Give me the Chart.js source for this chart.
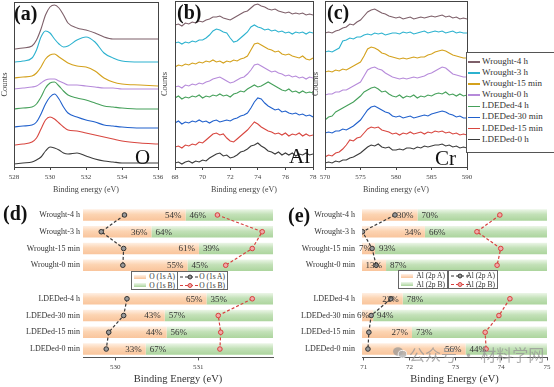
<!DOCTYPE html>
<html>
<head>
<meta charset="utf-8">
<script src="https://cdn.jsdelivr.net/npm/chart.js@4.4.0/dist/chart.umd.min.js"></script>
<style>
html, body { margin: 0; padding: 0; background: #fff; }
#wrap { position: relative; width: 554px; height: 387px; overflow: hidden; font-family: 'Liberation Serif', 'Times New Roman', serif; color: #222; }
#wrap canvas { position: absolute; }
.tag { position: absolute; font-weight: bold; line-height: 1; color: #111; }
.elem { position: absolute; font-size: 21px; line-height: 1; color: #111; }
#legTop { position: absolute; left: 466px; top: 52px; width: 92px; height: 101px; border: 1px solid #555; background: #fff; padding-top: 3px; box-sizing: border-box; }
#legTop .row { height: 11.1px; line-height: 11.1px; font-size: 9px; white-space: nowrap; color: #333; }
#legTop .sw { display: inline-block; width: 12px; height: 1.5px; vertical-align: middle; margin: 0 2px 0 1px; }
.lgbox { position: absolute; border: 1px solid #666; background: #fff; box-sizing: border-box; font-size: 7.5px; color: #333; }
.lgbox .r { position: absolute; left: 0; right: 2px; height: 9px; line-height: 9px; text-align: right; white-space: nowrap; }
.lgbox .bar { position: absolute; left: 2px; top: 2.5px; width: 12px; height: 4px; }
.lgbox svg { position: absolute; left: 1px; top: 1px; }
#wm { position: absolute; left: 409px; top: 342px; font-family: 'Noto Sans CJK SC', sans-serif; font-size: 16px; color: rgba(150,150,150,0.75); white-space: nowrap; }
#wmIcon { position: absolute; left: 393px; top: 347px; width: 14px; height: 11px; }
</style>
</head>
<body>
<div id="wrap">
  <canvas id="chartA" width="168" height="200" style="left:0;top:0"></canvas>
  <canvas id="chartB" width="163" height="200" style="left:160px;top:0"></canvas>
  <canvas id="chartC" width="166" height="200" style="left:311px;top:0"></canvas>
  <canvas id="chartD" width="280" height="197" style="left:0;top:190px"></canvas>
  <canvas id="chartE" width="277" height="197" style="left:277px;top:190px"></canvas>

  <div class="tag" style="left:14px;top:3px;font-size:20px">(a)</div>
  <div class="tag" style="left:177px;top:2px;font-size:20px">(b)</div>
  <div class="tag" style="left:327px;top:2px;font-size:20px">(c)</div>
  <div class="tag" style="left:3px;top:203px;font-size:20px">(d)</div>
  <div class="tag" style="left:288px;top:205px;font-size:20px">(e)</div>
  <div class="elem" style="left:135px;top:147px">O</div>
  <div class="elem" style="left:289px;top:146px">Al</div>
  <div class="elem" style="left:435px;top:148px">Cr</div>

  <div id="legTop"></div>

  <div class="lgbox" style="left:131px;top:271px;width:47px;height:19px">
    <div class="bar" style="background:linear-gradient(#fff1e6,#f9c49b)"></div>
    <div class="r" style="top:0">O (1s A)</div>
    <div class="bar" style="top:11px;background:linear-gradient(#eef7ea,#abd49c)"></div>
    <div class="r" style="top:8.5px">O (1s B)</div>
  </div>
  <div class="lgbox" style="left:177px;top:271px;width:51px;height:19px">
    <svg width="22" height="17"><line x1="1" y1="4" x2="21" y2="4" stroke="#333" stroke-dasharray="3,2"/><circle cx="11" cy="4" r="2" fill="#999" stroke="#333"/><line x1="1" y1="12.5" x2="21" y2="12.5" stroke="#d8413f" stroke-dasharray="3,2"/><circle cx="11" cy="12.5" r="2" fill="#efaaa8" stroke="#d8413f"/></svg>
    <div class="r" style="top:0">O (1s A)</div>
    <div class="r" style="top:8.5px">O (1s B)</div>
  </div>
  <div class="lgbox" style="left:398px;top:270px;width:50px;height:19px">
    <div class="bar" style="background:linear-gradient(#fff1e6,#f9c49b)"></div>
    <div class="r" style="top:0">Al (2p A)</div>
    <div class="bar" style="top:11px;background:linear-gradient(#eef7ea,#abd49c)"></div>
    <div class="r" style="top:8.5px">Al (2p B)</div>
  </div>
  <div class="lgbox" style="left:448px;top:270px;width:50px;height:19px">
    <svg width="20" height="17"><line x1="1" y1="4" x2="19" y2="4" stroke="#333" stroke-dasharray="3,2"/><circle cx="10" cy="4" r="2" fill="#999" stroke="#333"/><line x1="1" y1="12.5" x2="19" y2="12.5" stroke="#d8413f" stroke-dasharray="3,2"/><circle cx="10" cy="12.5" r="2" fill="#efaaa8" stroke="#d8413f"/></svg>
    <div class="r" style="top:0">Al (2p A)</div>
    <div class="r" style="top:8.5px">Al (2p B)</div>
  </div>

  <svg id="wmIcon" viewBox="0 0 14 11"><ellipse cx="5" cy="4.5" rx="5" ry="4.2" fill="rgba(150,150,150,0.7)"/><ellipse cx="9.5" cy="7" rx="4.3" ry="3.6" fill="rgba(175,175,175,0.8)" stroke="#fff" stroke-width="0.8"/></svg>
  <div id="wm">公众号 · 材料学网</div>
</div>

<script>
// sample order, top to bottom in the stacked spectra
const sampleNames = ['Wrought-4 h', 'Wrought-3 h', 'Wrought-15 min', 'Wrought-0 h', 'LDEDed-4 h', 'LDEDed-30 min', 'LDEDed-15 min', 'LDEDed-0 h'];
const sampleColors = ['#7d5f69', '#2cb2cf', '#d4a11c', '#b68ada', '#45a05a', '#2060cc', '#d8463f', '#3b3b3b'];

// (a) O 1s, counts with vertical offsets as plotted
const energyO = [528, 528.5, 529, 529.25, 529.5, 529.75, 530, 530.25, 530.5, 530.75, 531, 531.5, 532, 532.5, 533, 533.5, 534, 535, 536];
const oW4h  = [118, 119, 121, 127, 138, 152, 160, 162, 159, 152, 144, 139, 137, 134, 130, 128, 128, 128, 128];
const oW3h  = [105, 106, 109, 117, 130, 136, 134, 128, 123, 120, 121, 127, 130, 125, 114, 109, 106, 105, 105];
const oW15m = [89, 90, 91, 94, 100, 108, 112, 113, 110, 107, 104, 101, 100, 96, 89, 85, 83, 82, 81];
const oW0h  = [78, 79, 80, 81, 84, 87, 88, 88, 86, 84, 82, 82, 81, 80, 79, 79, 78, 78, 78];
const oL4h  = [58, 59, 60, 63, 70, 79, 84, 85, 81, 76, 72, 69, 67, 64, 61, 60, 59, 58, 58];
const oL30m = [40, 41, 42, 45, 53, 63, 70, 73, 68, 60, 54, 50, 47, 45, 42, 41, 40, 39, 39];
const oL15m = [22, 23, 25, 29, 38, 47, 50, 48, 44, 40, 37, 36, 34, 32, 30, 28, 26, 24, 23];
const oL0h  = [3, 4, 5, 7, 10, 16, 20, 19, 17, 14, 13, 14, 11, 8, 6, 5, 4, 4, 4];

// (b) Al 2p
const energyAl = [68, 68.25, 68.5, 68.75, 69, 69.25, 69.5, 69.75, 70, 70.25, 70.5, 70.75, 71, 71.25, 71.5, 71.75, 72, 72.25, 72.5, 72.75, 73, 73.25, 73.5, 73.75, 74, 74.25, 74.5, 74.75, 75, 75.25, 75.5, 75.75, 76, 76.25, 76.5, 76.75, 77, 77.25, 77.5, 77.75, 78];
const alW4h  = [142, 143, 141, 144, 143, 145, 144, 146, 145, 147, 148, 150, 150, 151, 149, 148, 147, 149, 151, 153, 155, 156, 159, 162, 163, 161, 160, 158, 157, 158, 156, 155, 154, 155, 153, 154, 153, 154, 152, 153, 152];
const alW3h  = [124, 125, 123, 125, 124, 126, 125, 127, 127, 129, 132, 136, 138, 137, 135, 134, 129, 125, 126, 129, 132, 135, 140, 142, 140, 139, 137, 138, 136, 137, 135, 136, 134, 135, 133, 135, 134, 135, 133, 135, 134];
const alW15m = [100, 102, 101, 103, 102, 104, 103, 105, 104, 106, 105, 107, 105, 106, 104, 106, 105, 107, 106, 108, 109, 111, 117, 123, 124, 122, 120, 118, 117, 115, 116, 113, 112, 113, 111, 110, 109, 111, 108, 107, 109];
const alW0h  = [80, 81, 79, 82, 81, 83, 82, 84, 83, 85, 86, 88, 89, 90, 88, 86, 84, 85, 87, 89, 90, 93, 97, 102, 103, 101, 99, 97, 95, 96, 94, 93, 91, 92, 90, 91, 89, 90, 88, 90, 89];
const alL4h  = [69, 71, 68, 70, 69, 71, 70, 72, 69, 71, 70, 72, 71, 73, 71, 72, 70, 73, 74, 76, 75, 78, 80, 82, 80, 81, 83, 85, 83, 81, 79, 77, 76, 78, 75, 76, 74, 76, 74, 75, 74];
const alL30m = [44, 46, 43, 45, 44, 46, 45, 47, 45, 46, 44, 46, 47, 45, 46, 47, 46, 48, 49, 51, 52, 54, 59, 65, 69, 68, 64, 61, 59, 57, 58, 55, 56, 54, 53, 54, 52, 53, 51, 52, 50];
const alL15m = [20, 21, 19, 22, 21, 23, 22, 25, 24, 27, 30, 33, 34, 32, 33, 29, 26, 25, 28, 31, 34, 37, 41, 45, 43, 40, 38, 36, 35, 33, 34, 32, 34, 31, 33, 32, 34, 31, 33, 31, 32];
const alL0h  = [4, 5, 3, 5, 6, 4, 6, 5, 7, 6, 9, 11, 13, 14, 11, 12, 9, 10, 12, 15, 16, 18, 21, 22, 24, 21, 19, 16, 15, 13, 15, 12, 14, 12, 14, 11, 13, 12, 14, 12, 13];

// (c) Cr 2p
const energyCr = [570, 570.5, 571, 571.5, 572, 572.5, 573, 573.5, 574, 574.5, 575, 575.5, 576, 576.5, 577, 577.5, 578, 578.5, 579, 579.5, 580, 580.5, 581, 581.5, 582, 582.5, 583, 583.5, 584, 584.5, 585, 585.5, 586, 586.5, 587, 587.5, 588, 588.5, 589, 589.5, 590];
const crW4h  = [134, 135, 134, 136, 137, 139, 140, 143, 142, 145, 147, 151, 155, 157, 158, 156, 154, 153, 151, 150, 149, 150, 148, 149, 150, 148, 149, 150, 149, 150, 151, 150, 151, 152, 150, 151, 149, 150, 148, 149, 148];
const crW3h  = [115, 116, 115, 117, 119, 126, 127, 129, 128, 130, 130, 132, 133, 132, 134, 133, 134, 132, 133, 134, 134, 133, 135, 134, 135, 133, 134, 135, 136, 134, 135, 136, 135, 136, 134, 135, 136, 134, 135, 134, 134];
const crW15m = [95, 96, 95, 97, 96, 98, 97, 99, 101, 103, 105, 111, 118, 120, 119, 117, 114, 113, 111, 110, 109, 108, 109, 108, 109, 110, 109, 110, 110, 112, 113, 115, 116, 117, 116, 114, 112, 111, 110, 109, 109];
const crW0h  = [72, 73, 73, 75, 75, 77, 77, 79, 81, 83, 85, 91, 97, 99, 100, 98, 97, 94, 92, 90, 89, 88, 89, 88, 89, 90, 89, 90, 91, 93, 94, 96, 98, 100, 99, 96, 93, 92, 91, 90, 90];
const crL4h  = [47, 50, 51, 55, 57, 59, 61, 63, 65, 68, 71, 75, 77, 79, 80, 78, 75, 76, 73, 71, 70, 72, 69, 71, 70, 72, 69, 71, 70, 72, 71, 73, 74, 73, 75, 72, 73, 71, 73, 71, 72];
const crL30m = [34, 35, 34, 36, 36, 38, 37, 39, 41, 44, 47, 52, 57, 60, 61, 59, 57, 55, 54, 51, 50, 51, 49, 50, 51, 49, 50, 51, 52, 51, 53, 54, 55, 56, 55, 53, 52, 50, 51, 49, 49];
const crL15m = [10, 12, 11, 14, 15, 18, 22, 27, 26, 29, 30, 34, 38, 40, 39, 40, 37, 36, 35, 33, 34, 32, 34, 33, 35, 33, 34, 35, 33, 35, 34, 36, 35, 36, 34, 35, 33, 34, 32, 33, 32];
const crL0h  = [4, 5, 4, 6, 5, 7, 7, 9, 10, 12, 14, 17, 20, 22, 21, 23, 20, 19, 20, 17, 17, 18, 17, 19, 19, 18, 20, 19, 21, 20, 21, 22, 22, 23, 21, 22, 20, 21, 19, 20, 19];

// (d) and (e): fractions (%) and peak positions (eV); '' is the gap row holding the legend
const barCats = ['Wrought-4 h', 'Wrought-3 h', 'Wrought-15 min', 'Wrought-0 min', '', 'LDEDed-4 h', 'LDEDed-30 min', 'LDEDed-15 min', 'LDEDed-0 min'];
const o1sA_pct = [54, 36, 61, 55, null, 65, 43, 44, 33];
const o1sB_pct = [46, 64, 39, 45, null, 35, 57, 56, 67];
const o1sA_be  = [530.11, 529.83, 530.10, 530.09, null, 530.14, 530.10, 529.92, 529.89];
const o1sB_be  = [531.23, 531.77, 531.65, 531.33, null, 531.65, 531.24, 531.27, 531.26];
const al2pA_pct = [30, 34, 7, 13, null, 22, 6, 27, 56];
const al2pB_pct = [70, 66, 93, 87, null, 78, 94, 73, 44];
const al2pA_be  = [71.68, 70.97, 71.18, 71.27, null, 71.59, 71.16, 71.11, 71.09];
const al2pB_be  = [73.97, 73.47, 73.99, 73.91, null, 74.19, 73.95, 73.65, 73.67];
const oTicks = [530, 531];
const alTicks = [71, 72, 73, 74, 75];

const serif = "'Liberation Serif', 'Times New Roman', serif";

// legend of the top row
const legTop = document.getElementById('legTop');
sampleNames.forEach((n, i) => {
  const row = document.createElement('div');
  row.className = 'row';
  row.innerHTML = '<span class="sw" style="background:' + sampleColors[i] + '"></span>' + n;
  legTop.appendChild(row);
});

const framePlugin = {
  id: 'frame',
  afterDraw(chart) {
    const a = chart.chartArea, c = chart.ctx;
    c.save();
    c.strokeStyle = '#444';
    c.lineWidth = 1;
    c.strokeRect(Math.round(a.left) + 0.5, Math.round(a.top) + 0.5, Math.round(a.right - a.left), Math.round(a.bottom - a.top));
    c.restore();
  }
};

function spectrumChart(id, energy, series, xMin, xMax, step, yMax, smooth, pad, yWidth) {
  new Chart(document.getElementById(id), {
    type: 'line',
    data: {
      datasets: series.map((s, i) => ({
        label: sampleNames[i],
        data: energy.map((e, k) => ({ x: e, y: s[k] })),
        borderColor: sampleColors[i],
        borderWidth: 1.1,
        pointRadius: 0,
        tension: smooth ? 0.4 : 0,
        cubicInterpolationMode: smooth ? 'monotone' : 'default'
      }))
    },
    options: {
      responsive: false,
      animation: false,
      devicePixelRatio: 1,
      layout: { padding: pad },
      plugins: { legend: { display: false }, tooltip: { enabled: false } },
      scales: {
        x: {
          type: 'linear', min: xMin, max: xMax,
          ticks: { stepSize: step, color: '#444', padding: 3, font: { family: serif, size: 7 } },
          grid: { drawOnChartArea: false, tickLength: 3, color: '#444' },
          border: { color: '#444' },
          title: { display: true, text: 'Binding energy (eV)', color: '#444', padding: { top: 0, bottom: 5 }, font: { family: serif, size: 8 } },
          afterFit: s => { s.height = 33; }
        },
        y: {
          min: 0, max: yMax,
          ticks: { display: false },
          grid: { display: false, drawTicks: false },
          border: { color: '#444' },
          title: { display: true, text: 'Counts', color: '#444', padding: 0, font: { family: serif, size: 8.5 } },
          afterFit: s => { s.width = yWidth; }
        }
      }
    },
    plugins: [framePlugin]
  });
}

spectrumChart('chartA', energyO, [oW4h, oW3h, oW15m, oW0h, oL4h, oL30m, oL15m, oL0h], 528, 536, 2, 165, true, { left: 0, right: 10, top: 2, bottom: 0 }, 14);
spectrumChart('chartB', energyAl, [alW4h, alW3h, alW15m, alW0h, alL4h, alL30m, alL15m, alL0h], 68, 78, 2, 166, false, { left: 0, right: 10, top: 1, bottom: 0 }, 15);
spectrumChart('chartC', energyCr, [crW4h, crW3h, crW15m, crW0h, crL4h, crL30m, crL15m, crL0h], 570, 590, 5, 166, false, { left: 0, right: 10, top: 1, bottom: 0 }, 14);

function barFill(light, mid, dark) {
  return ctx => {
    const chart = ctx.chart;
    if (!chart.chartArea || ctx.dataIndex == null || !chart.scales.y) return mid;
    const y = chart.scales.y.getPixelForValue(ctx.dataIndex);
    const g = chart.ctx.createLinearGradient(0, y - 6, 0, y + 6);
    g.addColorStop(0, light);
    g.addColorStop(0.45, mid);
    g.addColorStop(1, dark);
    return g;
  };
}

const pctLabels = {
  id: 'pctLabels',
  afterDatasetsDraw(chart) {
    const c = chart.ctx;
    c.save();
    c.font = '9px ' + serif;
    c.fillStyle = '#333';
    c.textBaseline = 'middle';
    chart.data.datasets.forEach((ds, di) => {
      if (ds.type === 'line') return;
      chart.getDatasetMeta(di).data.forEach((bar, i) => {
        const v = ds.data[i];
        if (v == null) return;
        if (ds.part === 'A') {
          c.textAlign = 'right';
          c.fillText(v + '%', bar.x - 4, bar.y + 0.5);
        } else {
          c.textAlign = 'left';
          c.fillText(v + '%', bar.base + 4, bar.y + 0.5);
        }
      });
    });
    c.restore();
  }
};

function compositionChart(id, pctA, pctB, beA, beB, beMin, beMax, beTicks, yWidth, labelPad, rightPad) {
  new Chart(document.getElementById(id), {
    type: 'bar',
    data: {
      labels: barCats,
      datasets: [
        { type: 'line', indexAxis: 'y', data: beA, xAxisID: 'be', yAxisID: 'y', order: 0,
          borderColor: '#3a3a3a', borderDash: [3, 2], borderWidth: 1.2, spanGaps: false,
          pointRadius: 2.3, pointBackgroundColor: '#9a9a9a', pointBorderColor: '#333', pointBorderWidth: 1 },
        { type: 'line', indexAxis: 'y', data: beB, xAxisID: 'be', yAxisID: 'y', order: 0,
          borderColor: '#d8413f', borderDash: [3, 2], borderWidth: 1.2, spanGaps: false,
          pointRadius: 2.3, pointBackgroundColor: '#efaaa8', pointBorderColor: '#d8413f', pointBorderWidth: 1 },
        { part: 'A', data: pctA, xAxisID: 'pct', yAxisID: 'y', order: 1, stack: 's',
          backgroundColor: barFill('#fff1e6', '#fcd4b2', '#f9c49b'), barPercentage: 0.68, categoryPercentage: 1 },
        { part: 'B', data: pctB, xAxisID: 'pct', yAxisID: 'y', order: 1, stack: 's',
          backgroundColor: barFill('#eef7ea', '#c3e1b8', '#abd49c'), barPercentage: 0.68, categoryPercentage: 1 }
      ]
    },
    options: {
      indexAxis: 'y',
      responsive: false,
      animation: false,
      devicePixelRatio: 1,
      layout: { padding: { left: 0, right: rightPad, top: 16.6, bottom: 0 } },
      plugins: { legend: { display: false }, tooltip: { enabled: false } },
      scales: {
        y: {
          type: 'category', stacked: true,
          grid: { display: false, drawTicks: false }, border: { display: false },
          ticks: { autoSkip: false, padding: labelPad, color: '#333', font: { family: serif, size: 8 } },
          afterFit: s => { s.width = yWidth; }
        },
        pct: { type: 'linear', axis: 'x', position: 'bottom', display: false, stacked: true, min: 0, max: 100 },
        be: {
          type: 'linear', axis: 'x', position: 'bottom', min: beMin, max: beMax,
          ticks: { color: '#444', padding: 3, font: { family: serif, size: 7 } },
          afterBuildTicks: s => { s.ticks = beTicks.map(v => ({ value: v })); },
          grid: { drawOnChartArea: false, tickLength: 3, color: '#555' },
          border: { color: '#555' },
          title: { display: true, text: 'Binding Energy (eV)', color: '#333', padding: { top: 0, bottom: 1.5 }, font: { family: serif, size: 10.5 } },
          afterFit: s => { s.height = 29.6; }
        }
      }
    },
    plugins: [pctLabels]
  });
}

compositionChart('chartD', o1sA_pct, o1sB_pct, o1sA_be, o1sB_be, 529.61, 531.9, oTicks, 83, 3, 7);
compositionChart('chartE', al2pA_pct, al2pB_pct, al2pA_be, al2pB_be, 70.96, 75, alTicks, 85, 7, 7);
</script>
</body>
</html>
